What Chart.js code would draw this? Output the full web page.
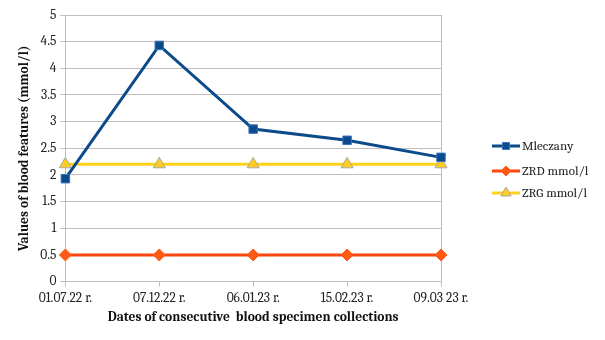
<!DOCTYPE html>
<html>
<head>
<meta charset="utf-8">
<script src="https://cdn.jsdelivr.net/npm/chart.js@4/dist/chart.umd.min.js"></script>
<style>
  html, body { margin: 0; padding: 0; background: #fff; }
  #wrap { width: 605px; height: 340px; }
</style>
</head>
<body>
<div id="wrap"><canvas id="chart" width="605" height="340"></canvas></div>
<script>
const dates = ['01.07.22 r.', '07.12.22 r.', '06.01.23 r.', '15.02.23 r.', '09.03 23 r.'];
const mleczany = [1.93, 4.43, 2.86, 2.65, 2.33];
const zrd = [0.5, 0.5, 0.5, 0.5, 0.5];
const zrg = [2.2, 2.2, 2.2, 2.2, 2.2];

const serif = 'Cambria, "DejaVu Serif", serif';
const gridGray = '#bfbfbf';

// legend drawn by hand: line with marker in the middle, like the original
const sideLegend = {
  id: 'sideLegend',
  afterDraw(chart) {
    const ctx = chart.ctx;
    const rows = [146, 171, 193];
    chart.data.datasets.forEach((ds, i) => {
      const y = rows[i];
      ctx.save();
      ctx.strokeStyle = ds.borderColor;
      ctx.lineWidth = 3;
      ctx.beginPath();
      ctx.moveTo(492, y);
      ctx.lineTo(520, y);
      ctx.stroke();
      ctx.fillStyle = ds.pointBackgroundColor;
      ctx.strokeStyle = ds.pointBorderColor;
      ctx.lineWidth = 1;
      Chart.helpers.drawPoint(ctx, {
        pointStyle: ds.pointStyle,
        radius: ds.pointRadius - 1,
        rotation: 0,
        borderWidth: 1
      }, 506, y);
      ctx.fillStyle = '#222';
      ctx.font = '13px ' + serif;
      ctx.textBaseline = 'middle';
      ctx.fillText(ds.label, 522, y);
      ctx.restore();
    });
  }
};

new Chart(document.getElementById('chart'), {
  type: 'line',
  data: {
    labels: dates,
    datasets: [
      {
        label: 'Mleczany',
        data: mleczany,
        borderColor: '#0b4a8b',
        backgroundColor: '#0b4a8b',
        pointBackgroundColor: '#0b4a8b',
        pointBorderColor: '#3b72c0',
        pointStyle: 'rect',
        pointRadius: 6,
        pointBorderWidth: 1,
        borderWidth: 3,
        tension: 0,
        order: 1
      },
      {
        label: 'ZRD mmol/l',
        data: zrd,
        borderColor: '#ff4510',
        backgroundColor: '#ff4510',
        pointBackgroundColor: '#ff5a14',
        pointBorderColor: '#ff5a14',
        pointStyle: 'rectRot',
        pointRadius: 6,
        pointBorderWidth: 1,
        borderWidth: 3,
        tension: 0,
        order: 3
      },
      {
        label: 'ZRG mmol/l',
        data: zrg,
        borderColor: '#ffd21a',
        backgroundColor: '#ffd21a',
        pointBackgroundColor: '#ffcc22',
        pointBorderColor: '#a8a8a8',
        pointStyle: 'triangle',
        pointRadius: 7,
        pointBorderWidth: 1,
        borderWidth: 3,
        tension: 0,
        order: 2
      }
    ]
  },
  options: {
    responsive: false,
    animation: false,
    layout: { padding: { top: 15, right: 164, left: 12, bottom: 11 } },
    plugins: {
      legend: { display: false },
      tooltip: { enabled: false }
    },
    scales: {
      x: {
        offset: false,
        grid: {
          color: (c) => (c.index === 0 || c.index === dates.length - 1) ? gridGray : 'rgba(0,0,0,0)',
          tickColor: gridGray,
          tickLength: 5
        },
        border: { color: gridGray },
        ticks: {
          color: '#222',
          font: { family: serif, size: 13.5 },
          maxRotation: 0,
          padding: 3
        },
        title: {
          display: true,
          text: 'Dates of consecutive  blood specimen collections',
          color: '#111',
          font: { family: serif, size: 13.5, weight: 'bold' },
          padding: { top: 0 }
        }
      },
      y: {
        min: 0,
        max: 5,
        ticks: {
          stepSize: 0.5,
          color: '#222',
          font: { family: serif, size: 13.5 },
          padding: 4,
          callback: (v) => String(+v.toFixed(1))
        },
        grid: { color: gridGray, tickColor: gridGray, tickLength: 5 },
        border: { color: gridGray },
        title: {
          display: true,
          text: 'Values of blood features (mmol/l)',
          color: '#111',
          font: { family: serif, size: 13.5, weight: 'bold' },
          padding: { bottom: 4 }
        }
      }
    }
  },
  plugins: [sideLegend]
});
</script>
</body>
</html>
